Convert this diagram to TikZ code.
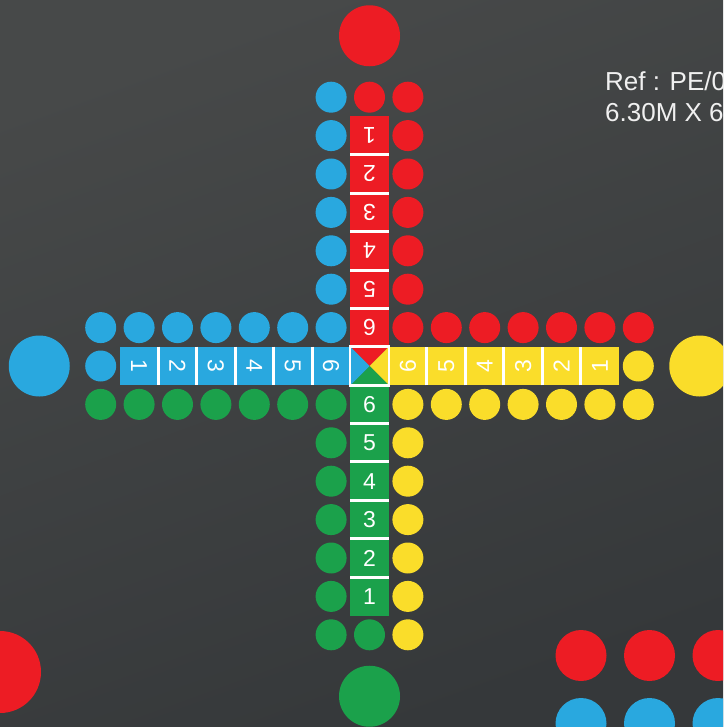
\documentclass[tikz,border=0pt]{standalone}
\usepackage{fontspec}
\setmainfont{Liberation Sans}
\usetikzlibrary{positioning}
\definecolor{ludored}{HTML}{ED1C24}
\definecolor{ludoblue}{HTML}{29A8DF}
\definecolor{ludogreen}{HTML}{1BA14B}
\definecolor{ludoyellow}{HTML}{FADD2A}
\definecolor{bgtop}{HTML}{474949}
\definecolor{bgbot}{HTML}{35383A}

\begin{document}
\begin{tikzpicture}[
		x=1pt, y=-1pt,
		dot/.style={circle, fill=#1, minimum size=31pt, inner sep=0pt},
		home/.style={circle, fill=#1, minimum size=61pt, inner sep=0pt},
		cell/.style={fill=#1, minimum size=38.4pt, inner sep=0pt,
			text=white, font=\fontsize{23}{23}\selectfont},
		sep/.style={draw=white, line width=3pt},
		reftext/.style={anchor=base west, inner sep=0pt, text=white!94!black,
			font=\fontsize{26}{31}\selectfont}
		]
		
		\path[use as bounding box] (0,0) rectangle (723,727);
		\shade[top color=bgtop, bottom color=bgbot, shading angle=20] (0,0) rectangle (723,727);
		\clip (0,0) rectangle (723,727);
		
		\begin{scope}[shift={(369.5,366)}, x=38.4pt, y=-38.4pt]
			
			% home circles
			\node[home=ludored] (hred) at (0,-8.6) {};
			\node[home=ludoblue] (hblue) at (-8.6,0) {};
			\node[home=ludoyellow] (hyellow) at (8.6,0) {};
			\node[home=ludogreen] (hgreen) at (0,8.6) {};
			
			% vertical arms
			\foreach \j in {2,...,7} {
				\node[dot=ludoblue] (tl\j) at (-1,-\j) {};
				\node[dot=ludored] (tr\j) at (1,-\j) {};
				\node[dot=ludogreen] (bl\j) at (-1,\j) {};
				\node[dot=ludoyellow] (br\j) at (1,\j) {};
			}
			
			% horizontal arms
			\foreach \i in {1,...,7} {
				\node[dot=ludoblue] (lt\i) at (-\i,-1) {};
				\node[dot=ludogreen] (lb\i) at (-\i,1) {};
				\node[dot=ludored] (rt\i) at (\i,-1) {};
				\node[dot=ludoyellow] (rb\i) at (\i,1) {};
			}
			
			\node[dot=ludored] (tc) at (0,-7) {};
			\node[dot=ludogreen] (bc) at (0,7) {};
			\node[dot=ludoblue] (lc) at (-7,0) {};
			\node[dot=ludoyellow] (rc) at (7,0) {};
			
			% numbered cells
			\foreach \k in {1,...,6} {
				\node[cell=ludored, rotate=180] (r\k) at (0,\k-7) {\k};
				\node[cell=ludoblue, rotate=-90] (b\k) at (\k-7,0) {\k};
				\node[cell=ludoyellow, rotate=90] (y\k) at (7-\k,0) {\k};
				\node[cell=ludogreen] (g\k) at (0,7-\k) {\k};
			}
			\foreach \k in {1,...,5} {
				\draw[sep] (r\k.north west) -- (r\k.north east);
				\draw[sep] (b\k.north west) -- (b\k.north east);
				\draw[sep] (y\k.north west) -- (y\k.north east);
				\draw[sep] (g\k.north west) -- (g\k.north east);
			}
			
			% centre square
			\node[minimum size=38.4pt, inner sep=0pt] (ctr) at (0,0) {};
			\fill[ludored] (ctr.north west) -- (ctr.north east) -- (ctr.center) -- cycle;
			\fill[ludoyellow] (ctr.north east) -- (ctr.south east) -- (ctr.center) -- cycle;
			\fill[ludogreen] (ctr.south east) -- (ctr.south west) -- (ctr.center) -- cycle;
			\fill[ludoblue] (ctr.south west) -- (ctr.north west) -- (ctr.center) -- cycle;
			\draw[white, line width=2.6pt] (ctr.north west) rectangle (ctr.south east);
			
		\end{scope}
		
		% corner circles
		\node[circle, fill=ludored, minimum size=82pt, inner sep=0pt] (cred) at (0,672) {};
		\foreach \x [count=\n] in {581,649.5,718} {
			\node[circle, fill=ludored, minimum size=51pt, inner sep=0pt] (sr\n) at (\x,655.5) {};
			\node[circle, fill=ludoblue, minimum size=51pt, inner sep=0pt] (sb\n) at (\x,723.5) {};
		}
		
		\node[reftext] (ref1) at (605,91) {Ref : PE/0};
		\node[reftext] (ref2) at (605,122) {6.30M X 6};
		
	\end{tikzpicture}
\end{document}
